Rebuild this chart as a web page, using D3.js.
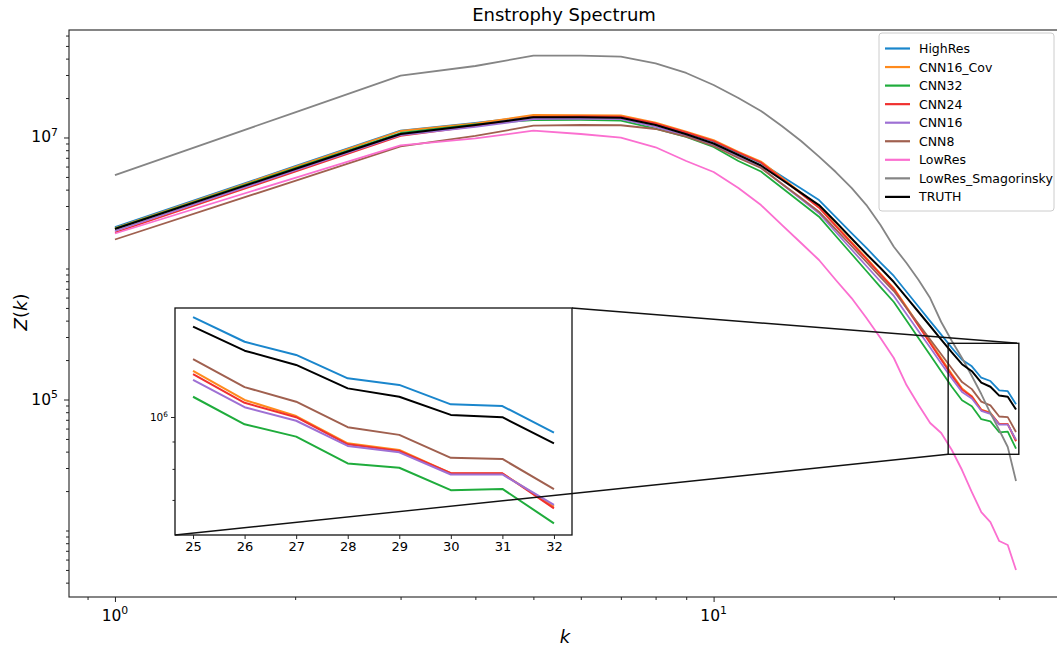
<!DOCTYPE html>
<html>
<head>
<meta charset="utf-8">
<script src="https://cdn.jsdelivr.net/npm/d3@7"></script>
<style>
  body { margin: 0; background: #fff; }
  text { font-family: "DejaVu Sans", sans-serif; fill: #000; }
</style>
</head>
<body>
<div id="chart"></div>
<script>
// wavenumbers
var kValues = [1, 2, 3, 4, 5, 6, 7, 8, 9, 10, 11, 12, 13, 14, 15, 16,
  17, 18, 19, 20, 21, 22, 23, 24, 25, 26, 27, 28, 29, 30, 31, 32];

var highRes = [2.07e6, 6.04e6, 1.127e7, 1.29e7, 1.46e7, 1.45e7, 1.447e7, 1.268e7, 1.082e7, 9.32e6, 7.61e6, 6.39e6, 5.06e6, 4.08e6, 3.33e6, 2.47e6,
  1.866e6, 1.434e6, 1.111e6, 8.77e5, 6.65e5, 5.11e5, 3.97e5, 3.125e5, 2.48e5, 2.01e5, 1.792e5, 1.467e5, 1.384e5, 1.173e5, 1.157e5, 9.19e4];
var cnn16Cov = [2.038e6, 5.976e6, 1.121e7, 1.279e7, 1.485e7, 1.48e7, 1.477e7, 1.297e7, 1.107e7, 9.57e6, 7.79e6, 6.56e6, 4.93e6, 3.79e6, 2.96e6, 2.148e6,
  1.593e6, 1.203e6, 9.16e5, 7.10e5, 5.10e5, 3.72e5, 2.757e5, 2.063e5, 1.565e5, 1.217e5, 1.062e5, 8.39e4, 7.93e4, 6.49e4, 6.48e4, 4.86e4];
var cnn32 = [2.02e6, 5.83e6, 1.082e7, 1.257e7, 1.36e7, 1.362e7, 1.344e7, 1.171e7, 1.009e7, 8.46e6, 6.62e6, 5.50e6, 4.14e6, 3.18e6, 2.485e6, 1.77e6,
  1.29e6, 9.57e5, 7.22e5, 5.55e5, 4.01e5, 2.937e5, 2.186e5, 1.644e5, 1.252e5, 9.88e4, 8.89e4, 7.07e4, 6.81e4, 5.62e4, 5.68e4, 4.22e4];
var cnn24 = [1.883e6, 5.49e6, 1.027e7, 1.224e7, 1.434e7, 1.447e7, 1.44e7, 1.279e7, 1.092e7, 9.40e6, 7.68e6, 6.44e6, 4.85e6, 3.72e6, 2.91e6, 2.11e6,
  1.565e6, 1.181e6, 9.00e5, 6.98e5, 4.996e5, 3.64e5, 2.69e5, 2.01e5, 1.522e5, 1.19e5, 1.048e5, 8.31e4, 7.86e4, 6.49e4, 6.49e4, 4.80e4];
var cnn16 = [1.933e6, 5.61e6, 1.045e7, 1.203e7, 1.384e7, 1.396e7, 1.38e7, 1.203e7, 1.027e7, 8.76e6, 7.10e6, 5.90e6, 4.42e6, 3.39e6, 2.64e6, 1.90e6,
  1.396e6, 1.045e6, 7.96e5, 6.17e5, 4.50e5, 3.32e5, 2.49e5, 1.886e5, 1.446e5, 1.143e5, 1.019e5, 8.20e4, 7.76e4, 6.43e4, 6.43e4, 4.94e4];
var cnn8 = [1.665e6, 4.67e6, 8.54e6, 1.027e7, 1.23e7, 1.246e7, 1.24e7, 1.161e7, 1.014e7, 8.61e6, 6.97e6, 5.85e6, 4.44e6, 3.45e6, 2.715e6, 1.985e6,
  1.485e6, 1.121e6, 8.61e5, 6.73e5, 5.0e5, 3.77e5, 2.87e5, 2.217e5, 1.727e5, 1.358e5, 1.20e5, 9.64e4, 9.02e4, 7.42e4, 7.34e4, 5.65e4];
var lowRes = [1.85e6, 4.925e6, 8.72e6, 9.83e6, 1.127e7, 1.063e7, 9.96e6, 8.42e6, 6.62e6, 5.45e6, 4.12e6, 3.05e6, 2.15e6, 1.565e6, 1.161e6, 8.17e5,
  5.95e5, 4.19e5, 2.948e5, 2.074e5, 1.29e5, 9.08e4, 6.615e4, 5.55e4, 4.117e4, 2.895e4, 1.967e4, 1.384e4, 1.161e4, 8.31e3, 7.75e3, 4.995e3];
var lowResSmag = [5.17e6, 1.557e7, 2.964e7, 3.514e7, 4.21e7, 4.22e7, 4.14e7, 3.685e7, 3.108e7, 2.516e7, 2.003e7, 1.594e7, 1.224e7, 9.40e6, 7.14e6, 5.45e6,
  4.12e6, 3.05e6, 2.148e6, 1.466e6, 1.101e6, 8.17e5, 5.95e5, 3.905e5, 2.796e5, 2.074e5, 1.511e5, 1.101e5, 7.88e4, 5.85e4, 4.34e4, 2.387e4];
var truth = [2.00e6, 5.75e6, 1.063e7, 1.246e7, 1.426e7, 1.43e7, 1.416e7, 1.246e7, 1.058e7, 9.00e6, 7.35e6, 6.11e6, 4.76e6, 3.78e6, 3.05e6, 2.265e6,
  1.694e6, 1.29e6, 1.009e6, 7.885e5, 6.02e5, 4.655e5, 3.64e5, 2.87e5, 2.288e5, 1.86e5, 1.644e5, 1.346e5, 1.252e5, 1.071e5, 1.05e5, 8.39e4];

// inset (zoom on k = 25..32)
var insetK = [25, 26, 27, 28, 29, 30, 31, 32];
var insetHighRes = [1.536e6, 1.382e6, 1.306e6, 1.181e6, 1.148e6, 1.056e6, 1.048e6, 9.35e5];
var insetCnn16Cov = [1.22e6, 1.076e6, 1.004e6, 8.93e5, 8.68e5, 7.85e5, 7.84e5, 6.80e5];
var insetCnn32 = [1.091e6, 9.69e5, 9.19e5, 8.19e5, 8.04e5, 7.30e5, 7.34e5, 6.33e5];
var insetCnn24 = [1.203e6, 1.063e6, 9.99e5, 8.89e5, 8.64e5, 7.85e5, 7.85e5, 6.75e5];
var insetCnn16 = [1.173e6, 1.043e6, 9.84e5, 8.83e5, 8.59e5, 7.81e5, 7.81e5, 6.85e5];
var insetCnn8 = [1.282e6, 1.137e6, 1.068e6, 9.57e5, 9.26e5, 8.39e5, 8.35e5, 7.33e5];
var insetTruth = [1.475e6, 1.33e6, 1.251e6, 1.131e6, 1.091e6, 1.009e6, 9.99e5, 8.93e5];

var seriesNames = ["HighRes", "CNN16_Cov", "CNN32", "CNN24", "CNN16", "CNN8", "LowRes", "LowRes_Smagorinsky", "TRUTH"];
var seriesColors = ["#1a86cc", "#ff8a1c", "#1fac3c", "#f0302f", "#9e70d4", "#a0604f", "#fb6fd0", "#858585", "#000000"];
var mainData = [highRes, cnn16Cov, cnn32, cnn24, cnn16, cnn8, lowRes, lowResSmag, truth];
var insetData = [insetHighRes, insetCnn16Cov, insetCnn32, insetCnn24, insetCnn16, insetCnn8, null, null, insetTruth];

// axis ticks
var xMajor = [1, 10];
var xMinor = [0.9, 2, 3, 4, 5, 6, 7, 8, 9, 20, 30];
var yMajor = [1e5, 1e7];
var insetXTicks = [25, 26, 27, 28, 29, 30, 31, 32];
var insetYMajor = [1e6];
var insetYMinor = [7e5, 8e5, 9e5];

var svgWidth = 1057;
var svgHeight = 649;

var plot = { left: 69, right: 1060, top: 30, bottom: 597 };
var inset = { left: 175, right: 572, top: 308, bottom: 535 };

var svg = d3.select("#chart")
  .append("svg")
  .attr("width", svgWidth)
  .attr("height", svgHeight);

var xScale = d3.scaleLog()
  .domain([0.838, 37.9])
  .range([plot.left, plot.right]);

var yScale = d3.scaleLog()
  .domain([3108, 6.615e7])
  .range([plot.bottom, plot.top]);

// minor y ticks: 2..9 x 10^n plus the unlabeled decades
var yMinor = [];
[1e3, 1e4, 1e5, 1e6, 1e7].forEach(function(dec) {
  for (var m = 1; m < 10; m++) {
    var v = m * dec;
    if (yMajor.indexOf(v) < 0 && v > 3108 && v < 6.615e7) yMinor.push(v);
  }
});

// frame
svg.append("rect")
  .attr("x", plot.left)
  .attr("y", plot.top)
  .attr("width", plot.right - plot.left)
  .attr("height", plot.bottom - plot.top)
  .attr("fill", "none")
  .attr("stroke", "#222")
  .attr("stroke-width", 1.1);

// axes
svg.append("g")
  .attr("transform", `translate(0, ${plot.bottom})`)
  .call(d3.axisBottom(xScale).tickValues(xMajor).tickSize(5).tickFormat(""))
  .call(g => g.select(".domain").remove());
svg.append("g")
  .attr("transform", `translate(0, ${plot.bottom})`)
  .call(d3.axisBottom(xScale).tickValues(xMinor).tickSize(3).tickFormat(""))
  .call(g => g.select(".domain").remove());
svg.append("g")
  .attr("transform", `translate(${plot.left}, 0)`)
  .call(d3.axisLeft(yScale).tickValues(yMajor).tickSize(5).tickFormat(""))
  .call(g => g.select(".domain").remove());
svg.append("g")
  .attr("transform", `translate(${plot.left}, 0)`)
  .call(d3.axisLeft(yScale).tickValues(yMinor).tickSize(3).tickFormat(""))
  .call(g => g.select(".domain").remove());
svg.selectAll(".tick line").attr("stroke", "#222");

// power-of-ten labels
function powerLabel(g, base, exp, fs) {
  g.append("tspan").text(base).attr("font-size", fs);
  g.append("tspan").text(exp).attr("font-size", fs * 0.7).attr("dy", -fs * 0.42);
}

xMajor.forEach(function(v) {
  var t = svg.append("text")
    .attr("x", xScale(v))
    .attr("y", 621)
    .attr("text-anchor", "middle");
  powerLabel(t, "10", String(Math.round(Math.log10(v))), 15.5);
});

yMajor.forEach(function(v) {
  var t = svg.append("text")
    .attr("x", 58)
    .attr("y", yScale(v) + 5)
    .attr("text-anchor", "end");
  powerLabel(t, "10", String(Math.round(Math.log10(v))), 15.5);
});

// axis titles
svg.append("text")
  .attr("x", 564)
  .attr("y", 21)
  .attr("text-anchor", "middle")
  .attr("font-size", 18)
  .text("Enstrophy Spectrum");

svg.append("text")
  .attr("x", 565)
  .attr("y", 643)
  .attr("text-anchor", "middle")
  .attr("font-size", 18)
  .attr("font-style", "italic")
  .text("k");

var yl = svg.append("text")
  .attr("transform", "translate(27, 312) rotate(-90)")
  .attr("text-anchor", "middle")
  .attr("font-size", 18);
yl.append("tspan").attr("font-style", "italic").text("Z");
yl.append("tspan").text("(");
yl.append("tspan").attr("font-style", "italic").text("k");
yl.append("tspan").text(")");

// main lines
var line = d3.line()
  .x((d, i) => xScale(kValues[i]))
  .y(d => yScale(d));

mainData.forEach(function(arr, i) {
  svg.append("path")
    .datum(arr)
    .attr("d", line)
    .attr("fill", "none")
    .attr("stroke", seriesColors[i])
    .attr("stroke-width", i == 8 ? 2 : 1.8)
    .attr("stroke-linejoin", "round");
});

// legend
var legend = svg.append("g");
legend.append("rect")
  .attr("x", 879)
  .attr("y", 33)
  .attr("width", 175)
  .attr("height", 178)
  .attr("rx", 3)
  .attr("fill", "white")
  .attr("fill-opacity", 0.8)
  .attr("stroke", "#cccccc");

seriesNames.forEach(function(name, i) {
  var ly = 48.5 + i * 18.55;
  legend.append("line")
    .attr("x1", 885).attr("x2", 910)
    .attr("y1", ly).attr("y2", ly)
    .attr("stroke", seriesColors[i])
    .attr("stroke-width", 2.2);
  legend.append("text")
    .attr("x", 919)
    .attr("y", ly + 4.5)
    .attr("font-size", 12.5)
    .text(name);
});

// inset axes
var insetX = d3.scaleLinear()
  .domain([24.65, 32.35])
  .range([inset.left, inset.right]);
var insetY = d3.scaleLog()
  .domain([6.02e5, 1.598e6])
  .range([inset.bottom, inset.top]);

svg.append("rect")
  .attr("x", inset.left)
  .attr("y", inset.top)
  .attr("width", inset.right - inset.left)
  .attr("height", inset.bottom - inset.top)
  .attr("fill", "white")
  .attr("stroke", "#111")
  .attr("stroke-width", 1.3);

svg.append("g")
  .attr("transform", `translate(0, ${inset.bottom})`)
  .call(d3.axisBottom(insetX).tickValues(insetXTicks).tickSize(4).tickPadding(3).tickFormat(d3.format("d")))
  .call(g => g.select(".domain").remove())
  .call(g => g.selectAll("text").attr("font-size", 13).attr("font-family", "DejaVu Sans").attr("fill", "#000"));

svg.append("g")
  .attr("transform", `translate(${inset.left}, 0)`)
  .call(d3.axisLeft(insetY).tickValues(insetYMajor).tickSize(4).tickFormat(""))
  .call(g => g.select(".domain").remove());
svg.append("g")
  .attr("transform", `translate(${inset.left}, 0)`)
  .call(d3.axisLeft(insetY).tickValues(insetYMinor).tickSize(2.5).tickFormat(""))
  .call(g => g.select(".domain").remove());
svg.selectAll(".tick line").attr("stroke", "#222");

insetYMajor.forEach(function(v) {
  var t = svg.append("text")
    .attr("x", 168)
    .attr("y", insetY(v) + 4)
    .attr("text-anchor", "end");
  powerLabel(t, "10", String(Math.round(Math.log10(v))), 10.5);
});

var insetLine = d3.line()
  .x((d, i) => insetX(insetK[i]))
  .y(d => insetY(d));

insetData.forEach(function(arr, i) {
  if (!arr) return;
  svg.append("path")
    .datum(arr)
    .attr("d", insetLine)
    .attr("fill", "none")
    .attr("stroke", seriesColors[i])
    .attr("stroke-width", 2)
    .attr("stroke-linejoin", "round");
});

// zoom box on the main axes plus connectors
var boxK = [24.65, 32.35];
var boxZ = [3.817e4, 2.685e5];
var bx0 = xScale(boxK[0]), bx1 = xScale(boxK[1]);
var by0 = yScale(boxZ[1]), by1 = yScale(boxZ[0]);

svg.append("rect")
  .attr("x", bx0)
  .attr("y", by0)
  .attr("width", bx1 - bx0)
  .attr("height", by1 - by0)
  .attr("fill", "none")
  .attr("stroke", "#111")
  .attr("stroke-width", 1.4);

svg.append("line")
  .attr("x1", inset.right).attr("y1", inset.top)
  .attr("x2", bx1).attr("y2", by0)
  .attr("stroke", "#111").attr("stroke-width", 1.4);
svg.append("line")
  .attr("x1", inset.left).attr("y1", inset.bottom)
  .attr("x2", bx0).attr("y2", by1)
  .attr("stroke", "#111").attr("stroke-width", 1.4);
</script>
</body>
</html>
